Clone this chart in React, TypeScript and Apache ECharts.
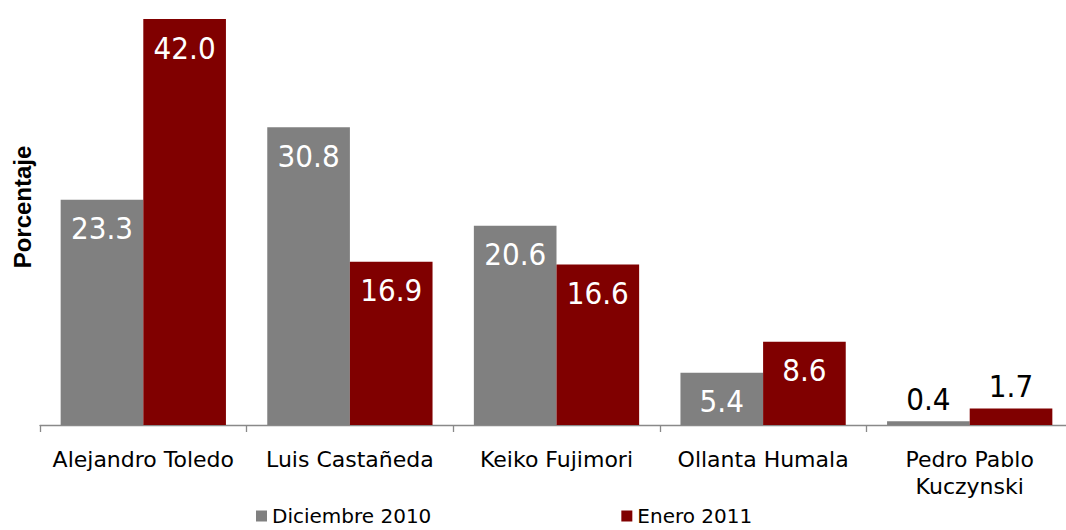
import React, { useEffect, useRef } from "react";
import * as echarts from "echarts";

const categories = [
  "Alejandro Toledo",
  "Luis Castañeda",
  "Keiko Fujimori",
  "Ollanta Humala",
  "Pedro Pablo\nKuczynski",
];
const seriesNames = ["Diciembre 2010", "Enero 2011"];
const diciembre2010 = [23.3, 30.8, 20.6, 5.4, 0.4];
const enero2011 = [42.0, 16.9, 16.6, 8.6, 1.7];
const yAxisTitle = "Porcentaje";

const LABEL_FONT = '"DejaVu Sans Condensed", "Noto Sans", sans-serif';
const AXIS_FONT = '"DejaVu Sans", Verdana, sans-serif';

function buildData(values: number[]) {
  return values.map((v) => {
    const outside = v < 3;
    return {
      value: v,
      label: outside
        ? { position: "top", distance: 7, color: "#000000" }
        : { position: "insideTop", distance: 13, color: "#ffffff" },
    };
  });
}

export default function App() {
  const ref = useRef<HTMLDivElement>(null);

  useEffect(() => {
    if (!ref.current) return;
    const chart = echarts.init(ref.current, null, { renderer: "svg" });
    const labelCommon = {
      show: true,
      fontFamily: LABEL_FONT,
      fontSize: 31,
      formatter: (p: any) => Number(p.value).toFixed(1),
    };
    chart.setOption({
      animation: false,
      backgroundColor: "#ffffff",
      grid: {
        left: 40,
        width: 1033,
        top: 19,
        bottom: 105,
        containLabel: false,
        outerBoundsMode: "none",
      },
      legend: {
        left: 256,
        top: 505,
        padding: 0,
        itemWidth: 11,
        itemHeight: 11,
        itemGap: 190,
        icon: "rect",
        textStyle: {
          fontFamily: AXIS_FONT,
          fontSize: 20,
          lineHeight: 22,
          color: "#000000",
        },
        data: seriesNames,
      },
      graphic: [
        {
          type: "text",
          x: 22.5,
          y: 207,
          rotation: Math.PI / 2,
          style: {
            text: yAxisTitle,
            font: 'bold 24px "Liberation Sans", Arial, sans-serif',
            fill: "#000000",
            textAlign: "center",
            textVerticalAlign: "middle",
          },
        },
      ],
      xAxis: {
        type: "category",
        data: categories,
        axisLine: { show: true, lineStyle: { color: "#898989", width: 1.3 } },
        axisTick: { show: true, length: 7, lineStyle: { color: "#898989", width: 1.3 } },
        axisLabel: {
          margin: 21,
          fontFamily: AXIS_FONT,
          fontSize: 22,
          lineHeight: 26.7,
          color: "#000000",
          interval: 0,
        },
      },
      yAxis: {
        type: "value",
        min: 0,
        max: 42,
        show: false,
        splitLine: { show: false },
      },
      series: [
        {
          name: seriesNames[0],
          type: "bar",
          data: buildData(diciembre2010),
          itemStyle: { color: "#808080" },
          barGap: "0%",
          barCategoryGap: "20%",
          label: labelCommon,
        },
        {
          name: seriesNames[1],
          type: "bar",
          data: buildData(enero2011),
          itemStyle: { color: "#800000" },
          barGap: "0%",
          barCategoryGap: "20%",
          label: labelCommon,
        },
      ],
    });
    return () => chart.dispose();
  }, []);

  return (
    <div
      ref={ref}
      style={{ position: "fixed", left: 0, top: 0, width: 1066, height: 530 }}
    />
  );
}
